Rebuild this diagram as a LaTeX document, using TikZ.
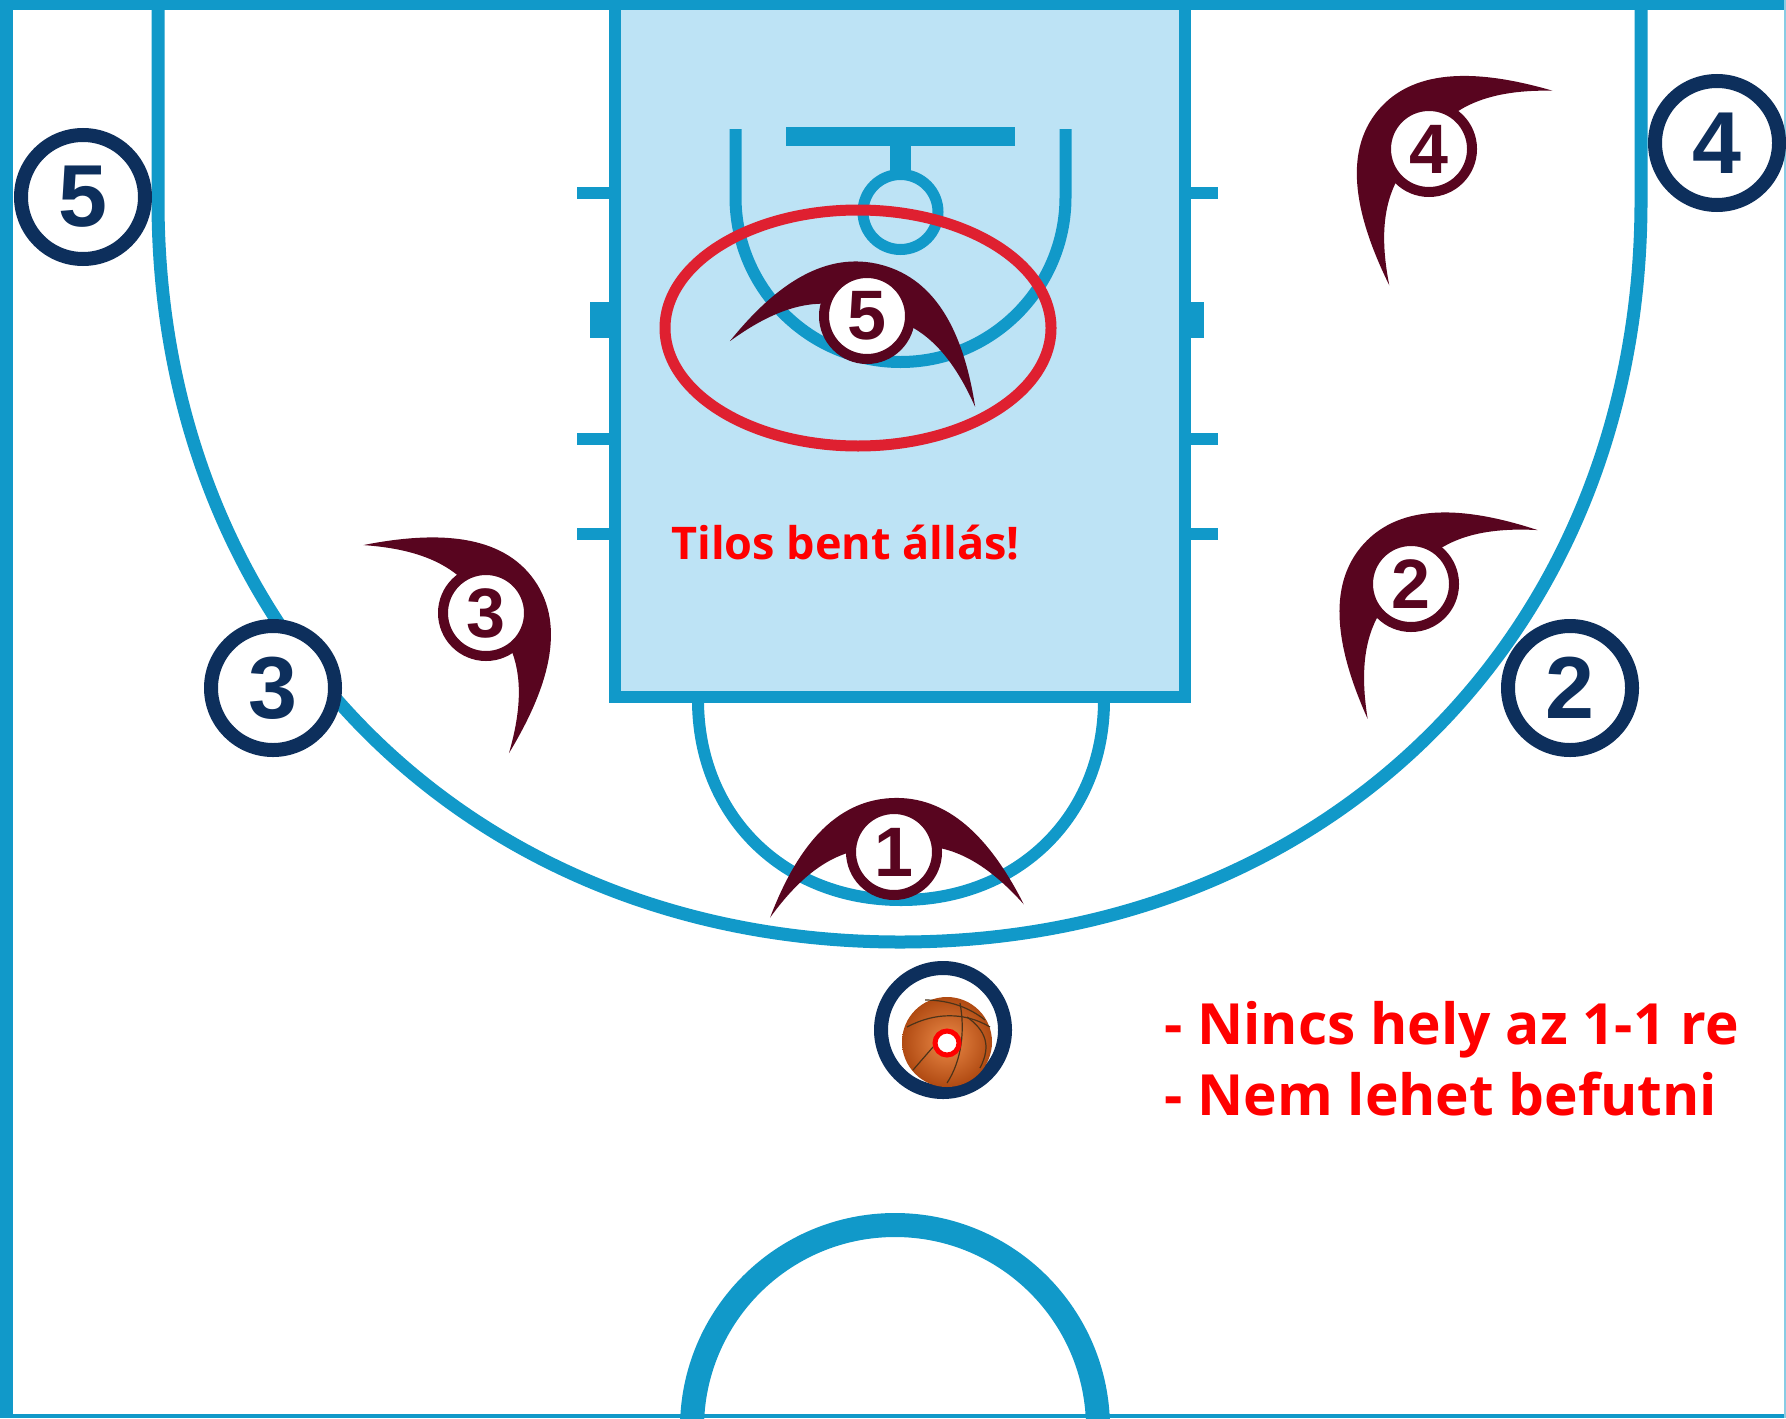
\documentclass[tikz,border=0pt]{standalone}
\usepackage{fontspec}
\setmainfont{Open Sans}
\newfontfamily\numfont{Liberation Sans}[BoldFont={Liberation Sans Bold}]
\definecolor{courtblue}{HTML}{1199C9}
\definecolor{paintfill}{HTML}{BDE3F5}
\definecolor{navy}{HTML}{0D2F5C}
\definecolor{maroon}{HTML}{58051F}
\definecolor{ovalred}{HTML}{DF2030}
\definecolor{textred}{HTML}{FF0000}
\definecolor{ballin}{HTML}{EC8A48}
\definecolor{ballout}{HTML}{B04A12}
\tikzset{
  courtline/.style={draw=courtblue,line width=6pt},
  thinline/.style={draw=courtblue,line width=6.5pt},
  offence/.style={circle,draw=navy,fill=white,line width=7pt,minimum size=62pt,inner sep=0pt,text=navy,font=\numfont\bfseries\fontsize{44}{44}\selectfont},
  defence/.style={circle,draw=maroon,fill=white,line width=5pt,minimum size=43pt,inner sep=0pt,text=maroon,font=\numfont\bfseries\fontsize{35}{35}\selectfont},
  note/.style={anchor=base west,inner sep=0pt,text=textred,font=\bfseries},
  seam/.style={draw=black!60!brown,line width=0.6pt}
}
\newcommand{\crescent}[4]{%
  \begin{scope}[shift={(#1,#2)},rotate=#3]
    \fill[maroon] (-127,-56) .. controls (-97,12) and (-57,#4) .. (0,#4)
      .. controls (57,#4) and (97,12) .. (127,-56)
      .. controls (98,-20) and (70,0) .. (40,6)
      -- (-40,6) .. controls (-70,0) and (-98,-20) .. (-127,-56) -- cycle;
  \end{scope}}
\begin{document}
\begin{tikzpicture}[x=0.5pt,y=0.5pt]
\useasboundingbox (0,0) rectangle (1786,-1418);
\fill[white] (0,0) rectangle (1786,-1418);
\begin{scope}
\clip (0,0) rectangle (1786,-1418);
% court outline
\fill[courtblue] (0,0) rectangle (1786,-10);
\fill[courtblue] (0,0) rectangle (13,-1418);
\fill[courtblue] (0,-1414) rectangle (1786,-1418);
\fill[courtblue!50] (1784,0) rectangle (1786,-1418);
% three point line
\draw[thinline] (158,-8) -- (158,-201) .. controls (158,-631) and (470,-942) .. (900,-942)
  .. controls (1330,-942) and (1641,-631) .. (1641,-201) -- (1641,-8);
% half-court circle
\draw[courtblue,line width=12pt] (895,-1428) circle[radius=203];
% free throw arc
\draw[courtline] (698,-697) -- (698,-700) .. controls (698,-816) and (784,-900) .. (901,-900)
  .. controls (1018,-900) and (1104,-816) .. (1104,-700) -- (1104,-697);
% lane ticks and blocks
\foreach \yy in {193,439,534}{
  \fill[courtblue] (577,-\yy-6) rectangle (612,-\yy+6);
  \fill[courtblue] (1188,-\yy-6) rectangle (1218,-\yy+6);
}
\fill[courtblue] (590,-302) rectangle (612,-338);
\fill[courtblue] (1188,-302) rectangle (1204,-338);
% paint
\draw[courtline,fill=paintfill] (615,-4) rectangle (1185,-697);
% restricted area
\draw[courtline] (735.5,-129) -- (735.5,-197) arc[start angle=180,end angle=360,radius=165] -- (1065.5,-129);
% backboard and ring
\fill[courtblue] (785.5,-127) rectangle (1015,-146);
\fill[courtblue] (890,-146) rectangle (911,-172);
\draw[courtblue,line width=5.5pt] (900.5,-212) circle[radius=37.5];
% red ring
\draw[ovalred,line width=5.5pt] (858,-328) ellipse[x radius=193,y radius=118];
\end{scope}
% defenders
\crescent{894}{-855}{3}{57}
\crescent{1428}{-152}{50}{65}
\crescent{867}{-320}{-15}{57}
\crescent{482}{-617}{-55}{64}
\crescent{1411}{-587}{48}{64}
\node[defence] (d1) at (894,-852) {1};
\node[defence] (d2) at (1411,-584) {2};
\node[defence] (d3) at (486,-613) {3};
\node[defence] (d4) at (1429,-149) {4};
\node[defence] (d5) at (867,-316) {5};
% offence
\node[offence] (o5) at (83,-197) {5};
\node[offence] (o3) at (273,-688) {3};
\node[offence] (o2) at (1570,-688) {2};
\node[offence] (o4) at (1717,-143) {4};
\node[offence] (o1) at (943,-1030) {};
% ball
\shade[inner color=ballin,outer color=ballout] (947,-1042) circle[radius=45];
\draw[seam] (907,-1027) .. controls (935,-1012) and (965,-1012) .. (990,-1027);
\draw[seam] (960,-1003) .. controls (965,-1030) and (962,-1060) .. (947,-1083);
\draw[seam] (913,-1070) -- (933,-1047);
\draw[seam] (967,-1017) .. controls (985,-1030) and (992,-1045) .. (980,-1068);
\draw[seam] (925,-1000) .. controls (950,-1000) and (970,-1008) .. (985,-1020);
\draw[red,line width=2.5pt,fill=white] (947,-1043) circle[radius=12];
% captions
\node[note,font=\bfseries\fontsize{22.5}{22.5}\selectfont] (t1) at (671,-559) {Tilos bent állás!};
\node[note,font=\bfseries\fontsize{28.4}{28.4}\selectfont] (t2) at (1164,-1044) {- Nincs hely az 1-1 re};
\node[note,font=\bfseries\fontsize{28.4}{28.4}\selectfont] (t3) at (1164,-1115) {- Nem lehet befutni};
\end{tikzpicture}
\end{document}
